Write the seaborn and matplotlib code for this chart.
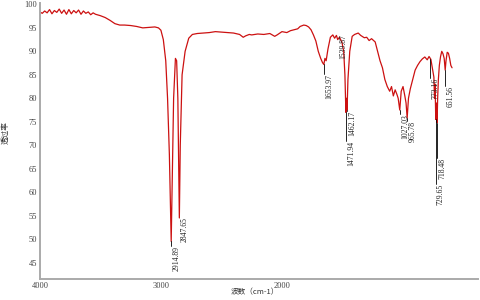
import numpy as np
import pandas as pd
import matplotlib
matplotlib.use("Agg")
import matplotlib.pyplot as plt
import seaborn as sns

# ---- data ----
wavenumber = [4000, 3980, 3960, 3940, 3920, 3900, 3880, 3860, 3840, 3820, 3800, 3780, 3760, 3740,
              3720, 3700, 3680, 3660, 3640, 3620, 3600, 3580, 3560, 3540, 3500, 3460, 3420, 3380,
              3340, 3300, 3250, 3200, 3150, 3100, 3050, 3020, 3000, 2980, 2960, 2945, 2930, 2914.89,
              2905, 2895, 2880, 2870, 2860, 2847.65, 2840, 2825, 2800, 2770, 2740, 2700, 2650, 2600,
              2550, 2500, 2450, 2400, 2350, 2320, 2300, 2270, 2250, 2200, 2150, 2100, 2060, 2040,
              2000, 1960, 1930, 1900, 1870, 1850, 1820, 1800, 1780, 1760, 1740, 1720, 1700, 1680,
              1665, 1653.97, 1645, 1635, 1620, 1600, 1580, 1565, 1550, 1539.87, 1525, 1505, 1490,
              1480, 1471.94, 1467, 1462.17, 1455, 1440, 1420, 1400, 1370, 1350, 1320, 1300, 1280,
              1260, 1230, 1210, 1190, 1170, 1150, 1130, 1110, 1095, 1080, 1065, 1050, 1040, 1027.03,
              1015, 1000, 985, 975, 965.78, 955, 940, 920, 900, 880, 860, 840, 820, 800, 785, 770,
              755, 745, 740, 735, 729.65, 725, 722, 718.48, 714, 708, 700, 690, 680, 670, 660,
              651.56, 645, 635, 625, 615, 605, 595]
transmittance = [98.4, 98.1, 98.6, 98.2, 98.9, 98.0, 98.7, 98.3, 99.0, 98.1, 98.8, 97.9, 98.9, 98.0,
                 98.7, 98.2, 98.8, 97.9, 98.6, 98.1, 98.4, 97.8, 98.2, 97.9, 97.6, 97.2, 96.6, 95.9,
                 95.6, 95.6, 95.5, 95.3, 95.0, 95.1, 95.2, 95.0, 94.5, 92.5, 88.0, 80.0, 68.0, 49.5,
                 65.0, 80.0, 88.5, 88.0, 80.0, 54.5, 70.0, 85.0, 90.0, 92.8, 93.6, 93.8, 93.9, 94.0,
                 94.2, 94.1, 94.0, 93.9, 93.6, 93.0, 93.3, 93.6, 93.5, 93.7, 93.6, 93.8, 93.2, 93.5,
                 94.2, 94.0, 94.4, 94.6, 94.8, 95.3, 95.6, 95.5, 95.2, 94.6, 93.5, 92.2, 90.0, 88.5,
                 87.6, 87.2, 88.5, 88.0, 90.5, 93.0, 93.5, 92.8, 93.4, 92.5, 93.0, 92.0, 90.0,
                 85.0, 77.0, 80.0, 77.5, 84.0, 90.0, 93.2, 93.6, 93.9, 93.4, 92.9, 93.0, 92.3,
                 92.7, 92.0, 90.0, 88.0, 86.5, 84.0, 82.5, 81.5, 82.5, 80.5, 81.8, 80.8, 80.0, 77.5,
                 81.5, 82.5, 80.5, 79.0, 75.8, 80.0, 82.0, 84.0, 86.0, 87.0, 87.8, 88.4, 88.8, 88.2, 88.9, 88.3,
                 86.0, 84.5, 80.0, 83.0, 75.5, 79.0, 77.0, 74.8, 80.0, 84.0, 87.0, 88.9, 90.0, 89.5, 88.5,
                 86.0, 88.0, 89.8, 89.6, 88.5, 87.0, 86.5]

# peak labels
peak_labels = ["2914.89", "2847.65", "1653.97", "1539.87", "1471.94", "1462.17",
               "1027.03", "965.78", "773.16", "729.65", "718.48", "651.56"]
peak_wn = [2914.89, 2847.65, 1653.97, 1539.87, 1471.94, 1462.17,
           1027.03, 965.78, 773.16, 729.65, 718.48, 651.56]

# layout: transmittance value at which each label's top sits
label_top = [48.6, 54.6, 85.2, 93.7, 70.9, 77.3, 76.7, 75.2, 84.4, 61.8, 67.3, 82.7]

x_ticks = [4000, 3000, 2000]
y_ticks = [45, 50, 55, 60, 65, 70, 75, 80, 85, 90, 95, 100]

df = pd.DataFrame({"wn": wavenumber, "T": transmittance})

sns.set_theme(style="white")
plt.rcParams["font.family"] = ["Liberation Serif", "Noto Sans CJK SC", "DejaVu Sans"]

fig = plt.figure(figsize=(4.8, 3.0), dpi=100)
ax = fig.add_axes([0.083, 0.07, 0.913, 0.92])

sns.lineplot(data=df, x="wn", y="T", ax=ax, color="#cc1111", linewidth=0.9,
             estimator=None, sort=True)

ax.set_xlim(4000, 380)
ax.set_ylim(41.5, 100.3)

# peak markers / labels
for lab, wn, top in zip(peak_labels, peak_wn, label_top):
    t_peak = np.interp(wn, wavenumber[::-1], transmittance[::-1])
    if top < t_peak:
        ax.plot([wn, wn], [t_peak, top], color="black", lw=0.6)
    ax.annotate(lab, xy=(wn, top), xytext=(0.8, 0), textcoords="offset points",
                rotation=90, ha="left", va="top", fontsize=5.5, color="#222222")

ax.set_xticks(x_ticks)
ax.set_xticklabels([str(v) for v in x_ticks])
ax.set_xticks([3500, 2500, 1500, 1000, 500], minor=True)
ax.set_yticks(y_ticks)
ax.set_yticklabels([str(v) for v in y_ticks])

ax.tick_params(axis="both", which="both", direction="in", length=2, width=0.8,
               colors="#555555", labelsize=6, pad=2)
ax.tick_params(axis="both", which="minor", length=1.5)
ax.tick_params(axis="both", labelcolor="#444444")

for s in ["top", "right"]:
    ax.spines[s].set_visible(False)
for s in ["left", "bottom"]:
    ax.spines[s].set_color("#aaaaaa")
    ax.spines[s].set_linewidth(1.4)

ax.set_xlabel("波数（cm-1）", fontsize=5.5, color="#333333",
              family=["Noto Sans CJK SC", "DejaVu Sans"])
ax.xaxis.set_label_coords(0.49, -0.035)
ax.set_ylabel("透过率", fontsize=5.5, color="#333333",
              family=["Noto Sans CJK SC", "DejaVu Sans"])
ax.yaxis.set_label_coords(-0.07, 0.53)

fig.savefig("out.png", dpi=100)
